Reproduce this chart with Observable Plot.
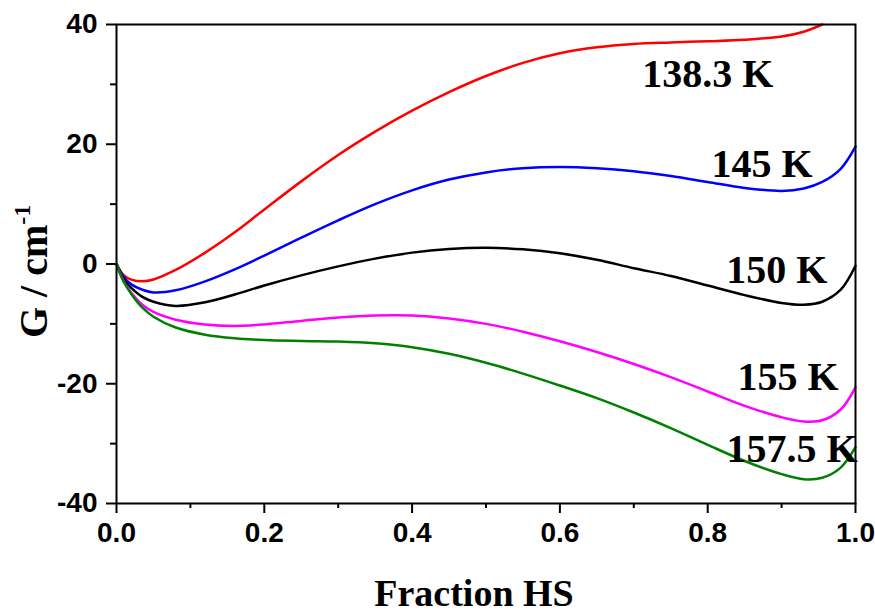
<!DOCTYPE html>
<html>
<head>
<meta charset="utf-8">
<script src="https://cdn.jsdelivr.net/npm/d3@7"></script>
<script src="https://cdn.jsdelivr.net/npm/@observablehq/plot@0.6"></script>
<style>
  html, body { margin: 0; padding: 0; background: white; }
  #chart { width: 875px; height: 613px; }
</style>
</head>
<body>
<div id="chart"></div>
<script>
// ---- data ----
const fractionHS = [0, 0.01, 0.02, 0.035, 0.05, 0.08, 0.12, 0.16, 0.2, 0.25, 0.3, 0.35, 0.4, 0.45, 0.5, 0.55, 0.6, 0.65, 0.7, 0.75, 0.8, 0.85, 0.9, 0.93, 0.955, 0.98, 1.0];

const g_138_3 = [0, -1.9, -2.6, -2.9, -2.6, -1.0, 1.9, 5.3, 9.1, 13.8, 18.2, 22.1, 25.6, 28.7, 31.4, 33.6, 35.2, 36.2, 36.75, 37.0, 37.2, 37.45, 38.0, 38.8, 40.0, null, null];
const g_145   = [0, -2.2, -3.4, -4.3, -4.75, -4.4, -2.9, -0.9, 1.4, 4.4, 7.3, 10.0, 12.3, 14.1, 15.3, 16.0, 16.2, 16.0, 15.5, 14.7, 13.7, 12.7, 12.2, 12.6, 13.7, 15.9, 19.6];
const g_150   = [0, -2.6, -4.0, -5.5, -6.3, -7.0, -6.4, -5.1, -3.6, -1.9, -0.4, 0.9, 1.9, 2.5, 2.7, 2.45, 1.8, 0.7, -0.7, -2.0, -3.6, -5.2, -6.5, -6.8, -6.3, -4.3, -0.3];
const g_155   = [0, -3.0, -4.8, -6.8, -8.0, -9.3, -10.1, -10.35, -10.1, -9.5, -8.95, -8.6, -8.6, -9.1, -10.0, -11.3, -12.9, -14.7, -16.7, -18.9, -21.3, -23.7, -25.6, -26.3, -26.1, -24.3, -20.6];
const g_157_5 = [0, -3.0, -5.0, -7.3, -8.8, -10.6, -11.8, -12.4, -12.7, -12.85, -12.95, -13.25, -13.9, -15.0, -16.5, -18.3, -20.3, -22.4, -24.8, -27.4, -30.2, -32.9, -35.1, -35.95, -35.7, -34.0, -30.6];

const seriesNames  = ["138.3 K", "145 K", "150 K", "155 K", "157.5 K"];
const seriesValues = [g_138_3, g_145, g_150, g_155, g_157_5];
const seriesColors = ["#ff0000", "#0000ff", "#000000", "#ff00ff", "#008000"];

const xTicks = [0, 0.2, 0.4, 0.6, 0.8, 1.0];
const xMinorTicks = [0.1, 0.3, 0.5, 0.7, 0.9];
const yTicks = [-40, -20, 0, 20, 40];
const yMinorTicks = [-30, -10, 10, 30];

// annotation anchors (data units) for the curve labels
const labelX = [0.889, 0.942, 0.962, 0.977, 1.003];
const labelY = [29.5, 14.45, -3.1, -21.1, -33.1];

// ---- build tables ----
const rows = [];
seriesNames.forEach((name, si) => {
  fractionHS.forEach((x, i) => {
    rows.push({series: name, x, g: seriesValues[si][i]});
  });
});
const labels = seriesNames.map((name, i) => ({name, x: labelX[i], y: labelY[i]}));

const serif = "'Liberation Serif', 'Times New Roman', serif";
const sans = "'Liberation Sans', Arial, sans-serif";

const chart = Plot.plot({
  width: 875,
  height: 613,
  marginLeft: 116,
  marginRight: 20,
  marginTop: 24,
  marginBottom: 110,
  style: {fontFamily: sans, background: "white", color: "black"},
  x: {domain: [0, 1]},
  y: {domain: [-40, 40]},
  color: {domain: seriesNames, range: seriesColors},
  marks: [
    Plot.axisX({ticks: xMinorTicks, tickSize: 5, text: null, strokeWidth: 2, label: null}),
    Plot.axisX({ticks: xTicks, tickSize: 10, tickPadding: 9, tickFormat: d3.format(".1f"),
                fontSize: 28, fontWeight: "bold", fontFamily: sans, strokeWidth: 2, label: null}),
    Plot.axisY({ticks: yMinorTicks, tickSize: 6, text: null, strokeWidth: 2, label: null}),
    Plot.axisY({ticks: yTicks, tickSize: 10, tickPadding: 9, tickFormat: d => String(d),
                fontSize: 28, fontWeight: "bold", fontFamily: sans, strokeWidth: 2, label: null}),
    Plot.line(rows, {x: "x", y: "g", z: "series", stroke: "series", strokeWidth: 2.5, curve: "catmull-rom"}),
    Plot.frame({strokeWidth: 2}),
    Plot.text(labels, {x: "x", y: "y", text: "name", textAnchor: "end", lineAnchor: "bottom",
                       fontSize: 40, fontWeight: "bold", fontFamily: serif, fill: "black"})
  ]
});

const svg = d3.select(chart);
// y axis title with superscript
const yt = svg.append("text")
  .attr("transform", "translate(47,338) rotate(-90)")
  .attr("font-family", serif)
  .attr("font-weight", "bold")
  .attr("font-size", 40)
  .attr("fill", "black")
  .attr("text-anchor", "start");
yt.append("tspan").text("G / cm");
yt.append("tspan").attr("font-size", 24).attr("dy", -17).text("-1");

// x axis title
svg.append("text")
  .attr("x", 474)
  .attr("y", 606)
  .attr("font-family", serif)
  .attr("font-weight", "bold")
  .attr("font-size", 38)
  .attr("fill", "black")
  .attr("text-anchor", "middle")
  .text("Fraction HS");

document.getElementById("chart").appendChild(chart);
</script>
</body>
</html>
